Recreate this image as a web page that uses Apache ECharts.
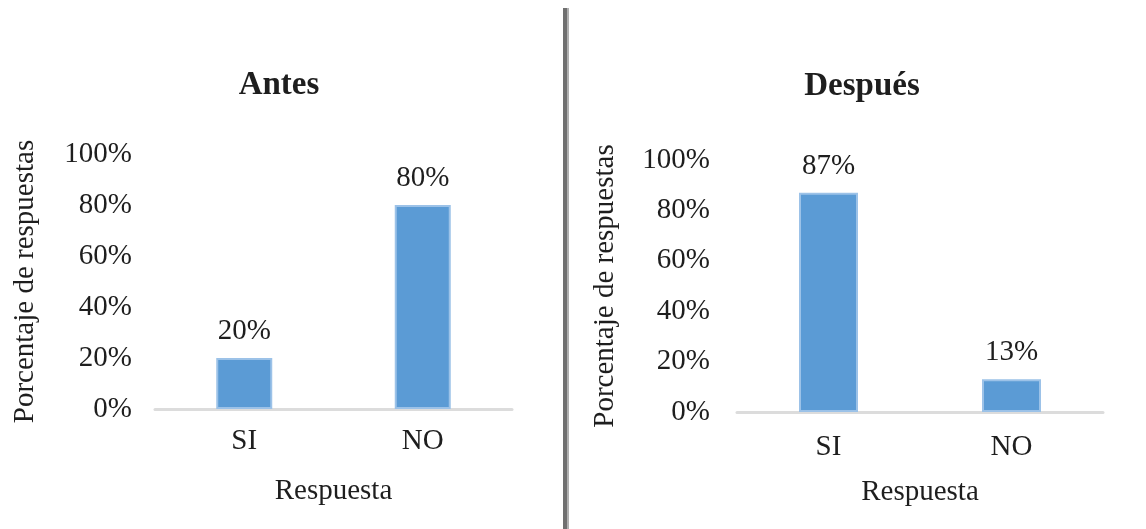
<!DOCTYPE html>
<html>
<head>
<meta charset="utf-8">
<script src="https://cdn.jsdelivr.net/npm/echarts@6/dist/echarts.min.js"></script>
<style>
html,body{margin:0;padding:0;background:#fff;}
#chart{width:1146px;height:529px;}
</style>
</head>
<body>
<div id="chart"></div>
<script>
const categories = ['SI', 'NO'];
const antesValues = [20, 80];
const despuesValues = [87, 13];
const panelTitles = ['Antes', 'Después'];
const yTicks = [0, 20, 40, 60, 80, 100];
const yAxisName = 'Porcentaje de respuestas';
const xAxisName = 'Respuesta';

const FONT = '"Liberation Serif", "Times New Roman", serif';
const TXT = '#1e1e1e';
const BAR = '#5b9bd5';

const chart = echarts.init(document.getElementById('chart'));

function xAxisCfg(idx, margin, gap) {
  return {
    type: 'category', gridIndex: idx, data: categories,
    axisLine: { lineStyle: { color: '#dcdcdc', width: 3 } },
    axisTick: { show: false },
    axisLabel: { color: TXT, fontFamily: FONT, fontSize: 29, margin: margin },
    name: xAxisName, nameLocation: 'middle', nameGap: gap,
    nameTextStyle: { color: TXT, fontFamily: FONT, fontSize: 29 }
  };
}
function yAxisCfg(idx, margin, gap) {
  return {
    type: 'value', gridIndex: idx, min: yTicks[0], max: yTicks[yTicks.length - 1], interval: 20,
    axisLine: { show: false }, axisTick: { show: false }, splitLine: { show: false },
    axisLabel: { color: TXT, fontFamily: FONT, fontSize: 29, margin: margin, formatter: '{value}%' },
    name: yAxisName, nameLocation: 'middle', nameGap: gap,
    nameTextStyle: { color: TXT, fontFamily: FONT, fontSize: 29 }
  };
}
function seriesCfg(idx, values, bw) {
  return {
    type: 'bar', xAxisIndex: idx, yAxisIndex: idx, data: values, barWidth: bw,
    itemStyle: { color: BAR, borderColor: '#9cc2e8', borderWidth: 2 },
    label: { show: true, position: 'top', distance: 12, formatter: '{c}%',
      color: TXT, fontFamily: FONT, fontSize: 29 }
  };
}

chart.setOption({
  animation: false,
  backgroundColor: '#fff',
  title: [
    { text: panelTitles[0], left: 274, top: 64, textAlign: 'center',
      textStyle: { fontFamily: FONT, fontWeight: 'bold', fontSize: 33, color: TXT } },
    { text: panelTitles[1], left: 857, top: 65, textAlign: 'center',
      textStyle: { fontFamily: FONT, fontWeight: 'bold', fontSize: 33, color: TXT } }
  ],
  grid: [
    { left: 155, width: 357, top: 154, height: 255 },
    { left: 737, width: 366, top: 160, height: 252 }
  ],
  xAxis: [xAxisCfg(0, 18, 68), xAxisCfg(1, 21, 66)],
  yAxis: [yAxisCfg(0, 23, 115), yAxisCfg(1, 27, 117)],
  series: [seriesCfg(0, antesValues, 56), seriesCfg(1, despuesValues, 59)],
  graphic: [
    { type: 'rect', shape: { x: 563, y: 8, width: 4, height: 521 }, style: { fill: '#707070' } },
    { type: 'rect', shape: { x: 567, y: 8, width: 2, height: 521 }, style: { fill: '#b0b0b0' } }
  ]
});
</script>
</body>
</html>
